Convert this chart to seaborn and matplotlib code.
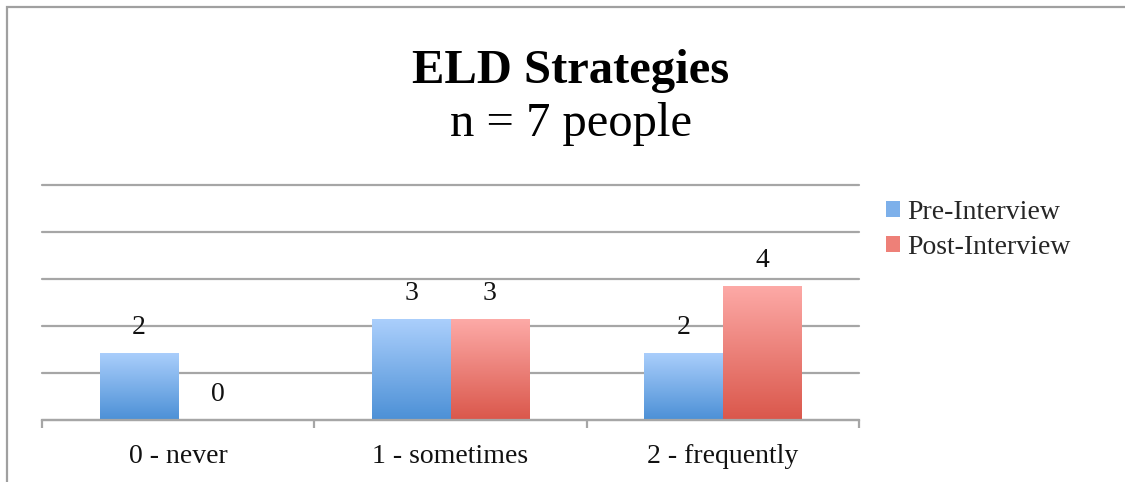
import numpy as np
import pandas as pd
import matplotlib
matplotlib.use("Agg")
import matplotlib.pyplot as plt
import seaborn as sns
from matplotlib.patches import Patch, Rectangle
from matplotlib.colors import LinearSegmentedColormap

categories = ["0 - never", "1 - sometimes", "2 - frequently"]
series = ["Pre-Interview", "Post-Interview"]
pre_counts = [2, 3, 2]
post_counts = [0, 3, 4]
n_people = 7
title_main = "ELD Strategies"
title_sub = "n = 7 people"

sns.set_theme(style="white")
plt.rcParams["font.family"] = ["Liberation Serif", "DejaVu Serif"]

df = pd.DataFrame({
    "category": categories * 2,
    "series": [series[0]] * 3 + [series[1]] * 3,
    "count": pre_counts + post_counts,
})
df["share"] = df["count"] / n_people

W, H = 1125, 482
fig = plt.figure(figsize=(W / 100, H / 100), dpi=100)
ax = fig.add_axes([42 / W, 1 - 420 / H, (859 - 42) / W, (420 - 185) / H])

grads = {
    series[0]: ("#ABCFFC", "#4C90D6"),
    series[1]: ("#FDAAA7", "#DA574B"),
}
mid = {series[0]: "#7DB0EA", series[1]: "#EE8078"}

sns.barplot(data=df, x="category", y="share", hue="series", order=categories,
            hue_order=series, palette=[mid[s] for s in series], width=0.577,
            gap=0, dodge=True, legend=False, ax=ax, saturation=1)

ax.set_xlim(-0.5, 2.5)
ax.set_ylim(0, 1)
ax.set_yticks(np.arange(0, 1.01, 0.2))
ax.yaxis.grid(True, color="#A6A6A6", linewidth=1.6)
for gl in ax.get_ygridlines():
    gl.set_clip_on(False)
ax.set_axisbelow(True)
ax.tick_params(axis="y", left=False, labelleft=False)
for s in ["top", "right", "left"]:
    ax.spines[s].set_visible(False)
ax.spines["bottom"].set_color("#A6A6A6")
ax.spines["bottom"].set_linewidth(1.6)
ax.set_xlabel("")
ax.set_ylabel("")
ax.set_xticks([0, 1, 2])
ax.set_xticklabels(categories, fontsize=20, color="#111111")
ax.tick_params(axis="x", which="major", length=0, pad=17.5)
ax.set_xticks([-0.5, 0.5, 1.5, 2.5], minor=True)
ax.tick_params(axis="x", which="minor", length=6, width=1.6, color="#A6A6A6", direction="out", bottom=True)

# gradients on bars, labels above them
containers = ax.containers
for cont, sname, counts in zip(containers, series, [pre_counts, post_counts]):
    cmap = LinearSegmentedColormap.from_list(sname, [grads[sname][1], grads[sname][0]])
    for patch, c in zip(cont.patches, counts):
        x0, y0 = patch.get_x(), patch.get_y()
        w, h = patch.get_width(), patch.get_height()
        if h > 0:
            grad = np.linspace(0, 1, 256).reshape(-1, 1)
            im = ax.imshow(grad, extent=[x0, x0 + w, y0, y0 + h], origin="lower",
                           cmap=cmap, aspect="auto", zorder=2)
            im.set_clip_path(patch)
            patch.set_facecolor("none")
            patch.set_edgecolor("none")
        ax.annotate(str(c), (x0 + w / 2, y0 + h), xytext=(0, 9.5), textcoords="offset points",
                    ha="center", va="bottom", fontsize=20, color="#111111")
ax.set_xlim(-0.5, 2.5)
ax.set_ylim(0, 1)

# legend
handles = [Patch(facecolor=mid[s], edgecolor="none") for s in series]
fig.legend(handles, series, loc="upper left", bbox_to_anchor=(886 / W, 1 - 200 / H),
           frameon=False, fontsize=20, handlelength=0.5, handleheight=0.5,
           handletextpad=0.25, labelspacing=0.35, borderpad=0, borderaxespad=0)

# titles
fig.text(571 / W, 1 - 83 / H, title_main, ha="center", va="baseline",
         fontsize=35, fontweight="bold", color="#000000")
fig.text(571 / W, 1 - 136 / H, title_sub, ha="center", va="baseline",
         fontsize=35, color="#000000")

# outer frame
fig.patches.append(Rectangle((7 / W, -0.2), 1.5, 1.2 - 7 / H, transform=fig.transFigure,
                             fill=False, edgecolor="#A0A0A0", linewidth=1.6))

fig.savefig("out.png", dpi=100)
